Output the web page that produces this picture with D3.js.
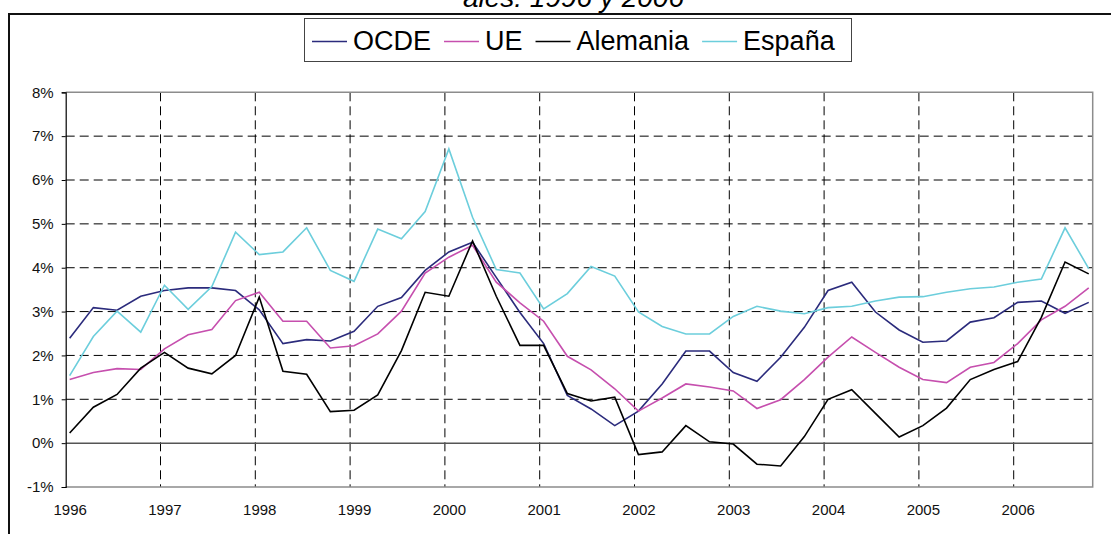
<!DOCTYPE html>
<html>
<head>
<meta charset="utf-8">
<script src="https://cdn.jsdelivr.net/npm/d3@7/dist/d3.min.js"></script>
<style>
  body { margin: 0; background: #fff; }
  svg { display: block; font-family: "Liberation Sans", Arial, sans-serif; }
</style>
</head>
<body>
<div id="chart"></div>
<script>
// quarterly data, 1996 T1 .. 2006 T4 (percent)
var years = ["1996","1997","1998","1999","2000","2001","2002","2003","2004","2005","2006"];
var yTicks = [-1, 0, 1, 2, 3, 4, 5, 6, 7, 8];
var seriesNames = ["OCDE", "UE", "Alemania", "España"];
var seriesColors = ["#2b2b7c", "#c64fae", "#000000", "#6ccedc"];

var ocde = [2.39,3.09,3.03,3.35,3.48,3.54,3.54,3.48,3.04,2.27,2.36,2.33,2.55,3.12,3.32,3.94,4.36,4.58,3.78,2.98,2.27,1.09,0.78,0.40,0.73,1.35,2.10,2.10,1.61,1.41,1.96,2.64,3.48,3.67,2.99,2.58,2.30,2.33,2.76,2.86,3.21,3.24,2.96,3.21];
var ue = [1.45,1.61,1.70,1.68,2.15,2.47,2.59,3.25,3.44,2.78,2.78,2.17,2.22,2.49,3.01,3.88,4.24,4.51,3.67,3.20,2.78,1.98,1.67,1.24,0.73,1.03,1.35,1.28,1.19,0.79,0.99,1.45,1.96,2.42,2.07,1.73,1.45,1.38,1.73,1.84,2.27,2.81,3.12,3.54];
var alemania = [0.23,0.82,1.11,1.71,2.07,1.71,1.58,2.00,3.33,1.64,1.57,0.72,0.75,1.10,2.11,3.44,3.35,4.61,3.35,2.23,2.23,1.13,0.96,1.05,-0.26,-0.20,0.40,0.03,-0.02,-0.48,-0.52,0.15,1.00,1.22,0.68,0.14,0.40,0.80,1.45,1.68,1.86,2.87,4.13,3.86];
var espana = [1.54,2.43,3.01,2.53,3.60,3.05,3.57,4.81,4.30,4.36,4.91,3.94,3.69,4.88,4.66,5.28,6.71,5.15,3.96,3.88,3.06,3.41,4.03,3.81,2.99,2.66,2.49,2.49,2.89,3.12,3.01,2.95,3.09,3.12,3.24,3.33,3.34,3.44,3.52,3.56,3.67,3.74,4.91,3.98];

var allSeries = [ocde, ue, alemania, espana];

var width = 1111, height = 534;

var svg = d3.select("#chart").append("svg")
    .attr("width", width)
    .attr("height", height);

// Title (cut off at the top of the picture, as in the original)
svg.append("text")
    .attr("x", 684)
    .attr("y", 7)
    .style("text-anchor", "end")
    .style("font-style", "italic")
    .style("font-size", "28px")
    .text("ales: 1996 y 2006");

// Chart area border (runs off the right and bottom edges)
svg.append("path")
    .attr("d", "M9,540 L9,14 L1120,14")
    .style("fill", "none")
    .style("stroke", "#111")
    .style("stroke-width", "2px");

// Scales: x is in months from Jan 1996, points sit mid-month of the quarter
var x = d3.scaleLinear().domain([0, 130]).range([65.7, 1092.7]);
var y = d3.scaleLinear().domain([-1, 8]).range([487, 92.3]);

var plot = svg.append("g");

// horizontal gridlines
plot.selectAll(".hgrid")
    .data(yTicks.filter(function(d){ return d > 0 && d < 8; }))
  .enter().append("line")
    .attr("x1", x(0)).attr("x2", x(130))
    .attr("y1", function(d){ return y(d); })
    .attr("y2", function(d){ return y(d); })
    .style("stroke", "#000")
    .style("stroke-width", "1px")
    .style("stroke-dasharray", "9,5");

// vertical gridlines at each year
plot.selectAll(".vgrid")
    .data(years.slice(1))
  .enter().append("line")
    .attr("x1", function(d, i){ return x(12 * (i + 1)); })
    .attr("x2", function(d, i){ return x(12 * (i + 1)); })
    .attr("y1", y(8)).attr("y2", y(-1))
    .style("stroke", "#000")
    .style("stroke-width", "1px")
    .style("stroke-dasharray", "9,5");

// plot area border (top, right, bottom)
plot.append("path")
    .attr("d", "M" + x(0) + "," + y(8) + " L" + x(130) + "," + y(8) +
               " L" + x(130) + "," + y(-1) + " L" + x(0) + "," + y(-1))
    .style("fill", "none")
    .style("stroke", "#8c8c8c")
    .style("stroke-width", "1.5px");

// zero line
plot.append("line")
    .attr("x1", x(0)).attr("x2", x(130))
    .attr("y1", y(0)).attr("y2", y(0))
    .style("stroke", "#555")
    .style("stroke-width", "1.5px");

// y axis
var yAxis = d3.axisLeft(y)
    .tickValues(yTicks)
    .tickSize(4)
    .tickPadding(8)
    .tickFormat(function(d){ return d + "%"; });

var gy = svg.append("g")
    .attr("transform", "translate(" + x(0) + ",0)")
    .call(yAxis);
gy.select(".domain").style("stroke", "#000").style("stroke-width", "1.2px");
gy.selectAll(".tick line").style("stroke", "#000");
gy.selectAll("text")
    .style("font-family", "'Liberation Sans', Arial, sans-serif")
    .style("font-size", "15px")
    .style("fill", "#111");

// x axis labels
var xAxis = d3.axisBottom(x)
    .tickValues(years.map(function(d, i){ return 12 * i + 0.5; }))
    .tickSize(0)
    .tickPadding(17)
    .tickFormat(function(d, i){ return years[i]; });

var gx = svg.append("g")
    .attr("transform", "translate(0," + y(-1) + ")")
    .call(xAxis);
gx.select(".domain").remove();
gx.selectAll("text")
    .style("font-family", "'Liberation Sans', Arial, sans-serif")
    .style("font-size", "15px")
    .style("fill", "#111");

// lines
var line = d3.line()
    .x(function(d, i){ return x(3 * i + 0.5); })
    .y(function(d){ return y(d); });

plot.selectAll(".series")
    .data(allSeries)
  .enter().append("path")
    .attr("d", line)
    .style("fill", "none")
    .style("stroke", function(d, i){ return seriesColors[i]; })
    .style("stroke-width", "1.6px")
    .style("stroke-linejoin", "miter");

// Legend
var legend = svg.append("g");
legend.append("rect")
    .attr("x", 304.5).attr("y", 18.5)
    .attr("width", 547).attr("height", 43)
    .style("fill", "#fff")
    .style("stroke", "#444")
    .style("stroke-width", "1px");

var lx = 312;
seriesNames.forEach(function(name, i){
  legend.append("line")
    .attr("x1", lx).attr("x2", lx + 35)
    .attr("y1", 41.5).attr("y2", 41.5)
    .style("stroke", seriesColors[i])
    .style("stroke-width", "1.6px");
  var t = legend.append("text")
    .attr("x", lx + 41)
    .attr("y", 50)
    .style("font-size", "27px")
    .style("fill", "#000")
    .text(name);
  lx = lx + 41 + t.node().getComputedTextLength() + 13;
});
</script>
</body>
</html>
